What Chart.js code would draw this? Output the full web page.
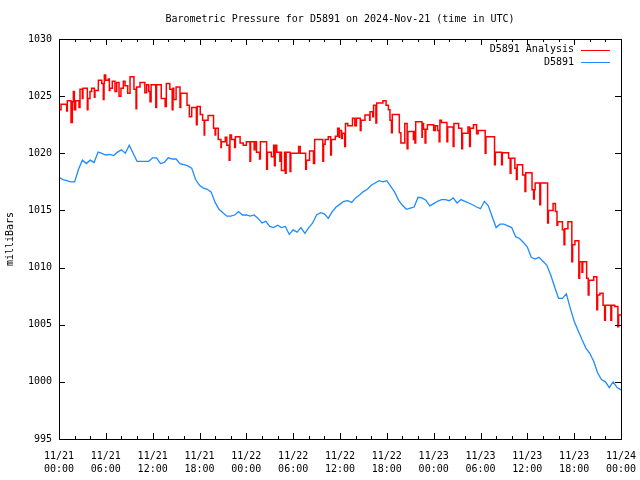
<!DOCTYPE html>
<html>
<head>
<meta charset="utf-8">
<title>Barometric Pressure for D5891</title>
<script src="https://cdn.jsdelivr.net/npm/chart.js@4.4.1/dist/chart.umd.min.js"></script>
<style>
  html, body { margin: 0; padding: 0; background: #fff; }
  #wrap { width: 640px; height: 480px; }
</style>
</head>
<body>
<div id="wrap"><canvas id="pressure-chart" width="640" height="480"></canvas></div>
<script>
// ── Data ───────────────────────────────────
// hours after 11/21 00:00 UTC, millibars

// analysis: value holds until the next change (step line)
var analysisHours = [
  0.0, 0.26, 0.98, 1.07, 1.54, 1.71, 1.84, 1.97, 2.14, 2.56,
  2.69, 2.99, 3.07, 3.63, 3.71, 3.97, 4.18, 4.53, 4.61, 5.04,
  5.47, 5.68, 5.77, 5.81, 5.98, 6.32, 6.45, 6.53, 6.83, 7.17,
  7.39, 7.69, 7.94, 8.24, 8.46, 8.8, 9.1, 9.6, 9.87, 9.95,
  10.38, 11.0, 11.23, 11.5, 11.66, 11.8, 12.4, 12.5, 13.1, 13.6,
  13.75, 14.2, 14.5, 14.6, 14.7, 15.0, 15.5, 15.6, 16.4, 16.7,
  17.0, 17.6, 17.7, 18.1, 18.4, 18.6, 18.66, 19.1, 19.8, 20.0,
  20.07, 20.4, 20.75, 20.8, 21.3, 21.5, 21.8, 21.9, 22.1, 22.5,
  22.6, 23.2, 23.6, 24.0, 24.47, 24.55, 25.0, 25.1, 25.3, 25.7,
  25.8, 26.6, 26.7, 27.2, 27.5, 27.6, 27.7, 27.9, 28.3, 28.4,
  28.5, 28.9, 29.0, 29.1, 29.6, 29.7, 30.7, 30.9, 31.6, 31.7,
  32.1, 32.6, 32.75, 33.8, 33.9, 34.1, 34.5, 34.8, 34.9, 35.4,
  35.7, 35.9, 35.95, 36.2, 36.3, 36.6, 36.7, 37.0, 37.6, 37.9,
  38.1, 38.6, 38.7, 39.2, 39.8, 39.85, 40.2, 40.3, 40.6, 40.7,
  41.5, 41.9, 42.2, 42.4, 42.6, 42.7, 43.6, 43.8, 44.3, 44.6,
  44.7, 45.4, 45.5, 45.6, 45.7, 46.5, 46.55, 46.7, 46.9, 47.0,
  47.2, 48.0, 48.2, 48.5, 48.7, 48.8, 49.0, 49.7, 49.8, 50.5,
  50.6, 51.2, 51.6, 51.7, 52.4, 52.6, 52.7, 53.1, 53.5, 53.7,
  54.6, 54.7, 55.8, 55.9, 56.7, 56.8, 57.6, 57.8, 57.9, 58.4,
  58.6, 58.7, 59.4, 59.7, 59.8, 60.6, 60.8, 60.9, 61.0, 61.6,
  61.7, 62.6, 62.7, 63.3, 63.6, 63.8, 63.9, 64.5, 64.7, 64.8,
  65.2, 65.7, 65.8, 66.1, 66.6, 66.7, 67.0, 67.1, 67.6, 67.8,
  67.9, 68.5, 68.9, 69.0, 69.3, 69.7, 69.9, 70.0, 70.7, 70.8,
  71.2, 71.6, 71.7, 72.0
];
var analysisValues = [
  1023.8, 1024.3, 1023.7, 1024.6, 1022.7, 1024.5, 1025.4, 1023.8, 1024.6, 1024.0,
  1025.6, 1024.8, 1025.7, 1023.8, 1024.8, 1025.4, 1025.7, 1024.9, 1025.5, 1026.4,
  1026.1, 1024.7, 1026.1, 1026.85, 1026.4, 1026.5, 1025.5, 1025.7, 1026.3, 1025.4,
  1026.2, 1025.0, 1025.7, 1026.3, 1025.9, 1025.25, 1026.7, 1025.6, 1023.9, 1025.8,
  1026.2, 1025.3, 1026.0, 1025.4, 1024.5, 1026.0, 1024.0, 1026.0, 1024.8, 1024.1,
  1026.1, 1025.6, 1023.8, 1025.7, 1024.7, 1025.8, 1024.0, 1025.25, 1024.2, 1023.2,
  1024.0, 1022.5, 1024.1, 1023.4, 1022.9, 1021.6, 1022.9, 1023.3, 1022.2, 1021.6,
  1022.2, 1021.2, 1020.5, 1021.0, 1021.4, 1020.7, 1019.4, 1021.6, 1021.2, 1020.5,
  1021.45, 1020.9, 1020.7, 1021.0, 1019.3, 1021.0, 1020.3, 1021.0, 1020.1, 1019.5,
  1021.0, 1018.6, 1020.1, 1019.7, 1020.7, 1018.9, 1020.7, 1020.1, 1019.3, 1020.1,
  1018.5, 1020.1, 1018.25, 1020.1, 1018.4, 1020.0, 1020.6, 1020.0, 1018.6, 1019.4,
  1020.2, 1019.1, 1021.2, 1019.3, 1020.8, 1021.2, 1021.45, 1019.85, 1021.2, 1021.5,
  1022.2, 1021.4, 1022.0, 1021.3, 1021.75, 1020.6, 1022.6, 1022.4, 1023.06, 1022.4,
  1023.06, 1022.0, 1022.9, 1023.35, 1022.9, 1023.64, 1023.2, 1024.2, 1022.65, 1024.4,
  1024.6, 1024.2, 1023.8, 1022.9, 1021.8, 1023.4, 1021.8, 1020.9, 1022.6, 1020.4,
  1021.9, 1021.2, 1021.9, 1020.9, 1022.76, 1021.4, 1022.6, 1022.1, 1020.9, 1022.1,
  1022.5, 1022.0, 1022.4, 1022.0, 1021.0, 1022.9, 1022.7, 1021.0, 1022.3, 1020.6,
  1022.6, 1022.2, 1020.4, 1021.75, 1022.3, 1020.6, 1022.2, 1022.5, 1021.7, 1022.0,
  1020.0, 1021.45, 1019.0, 1020.1, 1019.0, 1020.05, 1019.56, 1018.25, 1019.56, 1018.7,
  1017.7, 1019.0, 1018.1, 1016.65, 1018.3, 1016.8, 1016.0, 1016.8, 1017.4, 1015.5,
  1017.4, 1013.9, 1015.0, 1015.6, 1014.9, 1013.7, 1014.0, 1013.3, 1012.0, 1013.4,
  1014.0, 1010.5, 1012.0, 1012.35, 1009.06, 1010.5, 1009.6, 1010.5, 1009.06, 1007.6,
  1008.9, 1009.2, 1006.3, 1007.6, 1007.75, 1006.7, 1005.4, 1006.7, 1005.4, 1006.7,
  1006.6, 1004.83, 1005.85, 1005.85
];

// station reading, one every half hour
var STATION_STEP_HOURS = 0.5;
var station = [
  1017.9, 1017.7, 1017.6, 1017.5, 1017.5, 1018.6, 1019.4, 1019.1, 1019.4, 1019.2,
  1020.1, 1020.0, 1019.85, 1019.9, 1019.8, 1020.1, 1020.3, 1020.0, 1020.7, 1020.0,
  1019.3, 1019.3, 1019.3, 1019.3, 1019.6, 1019.6, 1019.1, 1019.2, 1019.6, 1019.5,
  1019.5, 1019.1, 1019.0, 1018.9, 1018.7, 1017.7, 1017.2, 1016.95, 1016.85, 1016.6,
  1015.7, 1015.1, 1014.8, 1014.5, 1014.5, 1014.6, 1014.9, 1014.6, 1014.6, 1014.5,
  1014.6, 1014.3, 1013.9, 1014.05, 1013.6, 1013.5, 1013.7, 1013.5, 1013.6, 1012.9,
  1013.3, 1013.1, 1013.5, 1013.0, 1013.5, 1013.9, 1014.6, 1014.8, 1014.7, 1014.3,
  1014.9, 1015.3, 1015.55, 1015.8, 1015.85, 1015.7, 1016.1, 1016.35, 1016.65, 1016.85,
  1017.2, 1017.4, 1017.6, 1017.5, 1017.6, 1017.1, 1016.6, 1015.9, 1015.45, 1015.1,
  1015.2, 1015.3, 1016.15, 1016.1, 1015.9, 1015.4, 1015.6, 1015.8, 1015.95, 1015.95,
  1015.85, 1016.1, 1015.65, 1015.95, 1015.8, 1015.65, 1015.5, 1015.3, 1015.15, 1015.8,
  1015.4, 1014.45, 1013.5, 1013.8, 1013.8, 1013.65, 1013.5, 1012.7, 1012.55, 1012.2,
  1011.8, 1010.9, 1010.75, 1010.9, 1010.55, 1010.2, 1009.35, 1008.3, 1007.3, 1007.3,
  1007.7, 1006.45, 1005.3, 1004.5, 1003.7, 1002.95, 1002.5, 1001.8, 1000.8, 1000.2,
  1000.0, 999.5, 1000.0, 999.5, 999.3
];

// tick labels, one pair every 6 hours
var tickDays = ["11/21", "11/21", "11/21", "11/21", "11/22", "11/22", "11/22",
                "11/22", "11/23", "11/23", "11/23", "11/23", "11/24"];
var tickTimes = ["00:00", "06:00", "12:00", "18:00", "00:00", "06:00", "12:00",
                 "18:00", "00:00", "06:00", "12:00", "18:00", "00:00"];

var seriesNames = ["D5891 Analysis", "D5891"];
var seriesColors = ["#ff0000", "#1e8cff"];

var FONT = "'DejaVu Sans Mono', 'Liberation Mono', monospace";

// gnuplot-ish frame: box, inward ticks on all four sides, title, key
var framePlugin = {
  id: "frame",
  afterDraw: function (chart) {
    var ctx = chart.ctx;
    var a = chart.chartArea;
    var xs = chart.scales.x;
    var ys = chart.scales.y;

    ctx.save();
    ctx.strokeStyle = "#000";
    ctx.lineWidth = 1;
    ctx.strokeRect(a.left + 0.5, a.top + 0.5, a.right - a.left, a.bottom - a.top);

    ctx.beginPath();
    xs.ticks.forEach(function (t) {
      var px = Math.round(xs.getPixelForValue(t.value)) + 0.5;
      var len = t.value % 6 === 0 ? 6 : 3;
      ctx.moveTo(px, a.bottom);
      ctx.lineTo(px, a.bottom - len);
      ctx.moveTo(px, a.top);
      ctx.lineTo(px, a.top + len);
    });
    ys.ticks.forEach(function (t) {
      var py = Math.round(ys.getPixelForValue(t.value)) + 0.5;
      ctx.moveTo(a.left, py);
      ctx.lineTo(a.left + 6, py);
      ctx.moveTo(a.right, py);
      ctx.lineTo(a.right - 6, py);
    });
    ctx.stroke();

    ctx.fillStyle = "#000";
    ctx.font = "10px " + FONT;
    ctx.textAlign = "center";
    ctx.textBaseline = "middle";
    ctx.fillText("Barometric Pressure for D5891 on 2024-Nov-21 (time in UTC)",
      (a.left + a.right) / 2, 19);

    // key, top right inside the frame
    ctx.textAlign = "right";
    seriesNames.forEach(function (name, i) {
      var y = a.top + 10.5 + i * 12.5;
      ctx.fillStyle = "#000";
      ctx.fillText(name, a.right - 47, y);
      ctx.strokeStyle = seriesColors[i];
      ctx.beginPath();
      ctx.moveTo(a.right - 40, Math.round(y) + 0.5);
      ctx.lineTo(a.right - 11, Math.round(y) + 0.5);
      ctx.stroke();
    });
    ctx.restore();
  },
};

var canvas = document.getElementById("pressure-chart");

new Chart(canvas, {
  type: "line",
  data: {
    datasets: [
      {
        label: seriesNames[0],
        data: analysisValues.map(function (v, i) {
          return { x: analysisHours[i], y: v };
        }),
        borderColor: seriesColors[0],
        borderWidth: 1.5,
        stepped: true,
        pointRadius: 0,
        fill: false,
      },
      {
        label: seriesNames[1],
        data: station.map(function (v, i) {
          return { x: i * STATION_STEP_HOURS, y: v };
        }),
        borderColor: seriesColors[1],
        borderWidth: 1.3,
        pointRadius: 0,
        tension: 0,
        fill: false,
      },
    ],
  },
  options: {
    responsive: false,
    animation: false,
    layout: { padding: { top: 39, right: 19, left: 0, bottom: 0 } },
    plugins: {
      legend: { display: false },
      tooltip: { enabled: false },
      title: { display: false },
    },
    scales: {
      x: {
        type: "linear",
        min: 0,
        max: 72,
        grid: { display: false, drawTicks: false },
        border: { display: false },
        ticks: {
          stepSize: 2,
          autoSkip: false,
          maxRotation: 0,
          padding: 11,
          color: "#000",
          font: { family: FONT, size: 10, lineHeight: 1.3 },
          callback: function (v) {
            if (v % 6 !== 0) return "";
            return [tickDays[v / 6], tickTimes[v / 6]];
          },
        },
        afterFit: function (scale) {
          scale.height = 41;
          scale.paddingLeft = 0;
          scale.paddingRight = 0;
        },
      },
      y: {
        min: 995,
        max: 1030,
        grid: { display: false, drawTicks: false },
        border: { display: false },
        ticks: {
          stepSize: 5,
          padding: 7,
          color: "#000",
          font: { family: FONT, size: 10 },
          callback: function (v) {
            return String(v);
          },
        },
        title: {
          display: true,
          text: "milliBars",
          color: "#000",
          font: { family: FONT, size: 10 },
          padding: { top: 4, bottom: 0 },
        },
        afterFit: function (scale) {
          scale.width = 59;
        },
      },
    },
  },
  plugins: [framePlugin],
});
</script>
</body>
</html>
